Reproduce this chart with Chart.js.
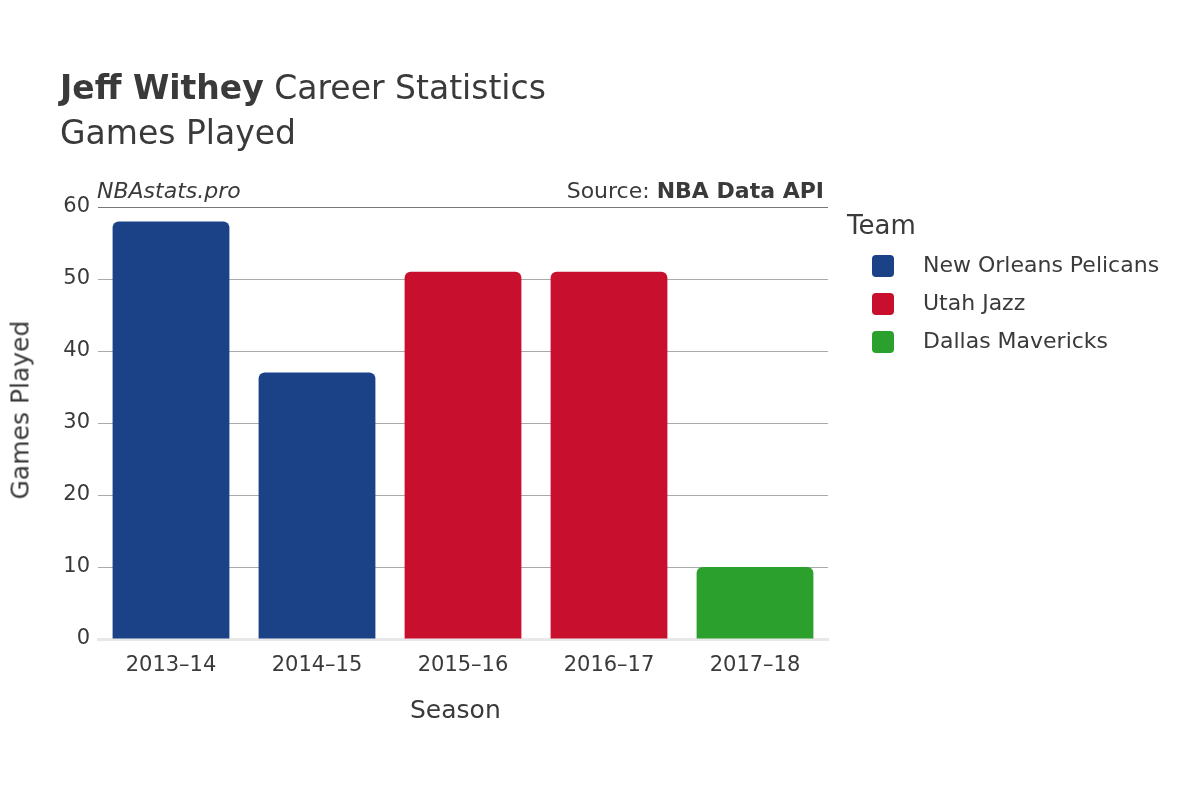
<!DOCTYPE html>
<html>
<head>
<meta charset="utf-8">
<script src="https://cdn.jsdelivr.net/npm/chart.js@4"></script>
<style>
  body { margin: 0; background: #fff; font-family: "DejaVu Sans", sans-serif; color: #3a3a3a; }
  #wrap { position: relative; width: 1200px; height: 800px; }
  .t { position: absolute; white-space: nowrap; }
  .sw { position: absolute; width: 22px; height: 22px; border-radius: 4px; }
</style>
</head>
<body>
<div id="wrap">
  <canvas id="c" width="1200" height="800"></canvas>
  <div class="t" style="left:60px;top:68px;font-size:33px;"><b>Jeff Withey</b> Career Statistics</div>
  <div class="t" style="left:60px;top:113px;font-size:33px;">Games Played</div>
  <div class="t" style="left:97px;top:178px;font-size:22px;font-style:italic;">NBAstats.pro</div>
  <div class="t" style="right:376px;top:178px;font-size:22px;">Source: <b>NBA Data API</b></div>
  <div class="t" style="left:-60px;top:405px;font-size:25px;transform:rotate(-90deg);transform-origin:center;width:160px;text-align:center;">Games Played</div>
  <div class="t" style="left:410px;top:695px;font-size:25px;">Season</div>
  <div class="t" style="left:847px;top:210px;font-size:26px;">Team</div>
  <div class="sw" style="left:872px;top:255px;background:#1B4287"></div>
  <div class="t" style="left:923px;top:252px;font-size:22px;">New Orleans Pelicans</div>
  <div class="sw" style="left:872px;top:293px;background:#C8102E"></div>
  <div class="t" style="left:923px;top:290px;font-size:22px;">Utah Jazz</div>
  <div class="sw" style="left:872px;top:331px;background:#2CA02C"></div>
  <div class="t" style="left:923px;top:328px;font-size:22px;">Dallas Mavericks</div>
</div>
<script>
const seasons = ['2013–14', '2014–15', '2015–16', '2016–17', '2017–18'];
const pelicans = [58, 37, null, null, null];
const jazz = [null, null, 51, 51, null];
const mavericks = [null, null, null, null, 10];
const yTicks = [0, 10, 20, 30, 40, 50, 60];

const bar = (label, data, color) => ({
  label: label, data: data, backgroundColor: color,
  borderRadius: { topLeft: 6, topRight: 6 }, borderSkipped: 'bottom',
  barPercentage: 0.8, categoryPercentage: 1
});

new Chart(document.getElementById('c'), {
  type: 'bar',
  data: {
    labels: seasons,
    datasets: [
      bar('New Orleans Pelicans', pelicans, '#1B4287'),
      bar('Utah Jazz', jazz, '#C8102E'),
      bar('Dallas Mavericks', mavericks, '#2CA02C')
    ]
  },
  options: {
    responsive: false,
    animation: false,
    layout: { padding: { top: 207, right: 372, left: 0, bottom: 0 } },
    plugins: { legend: { display: false }, tooltip: { enabled: false } },
    scales: {
      x: {
        stacked: true,
        afterFit: s => { s.height = 161; },
        grid: { display: false },
        border: { color: '#e8e8e8', width: 3 },
        ticks: { color: '#3a3a3a', font: { family: 'DejaVu Sans', size: 21 }, padding: 6 }
      },
      y: {
        stacked: true,
        min: 0, max: 60,
        afterFit: s => { s.width = 98; },
        afterBuildTicks: s => { s.ticks = yTicks.map(v => ({ value: v })); },
        grid: { color: ctx => ctx.tick && ctx.tick.value === 60 ? '#777' : (ctx.tick && ctx.tick.value === 0 ? 'rgba(0,0,0,0)' : '#aaa'), drawTicks: false },
        border: { display: false },
        ticks: { color: '#3a3a3a', font: { family: 'DejaVu Sans', size: 21 }, padding: 8 }
      }
    }
  }
});
</script>
</body>
</html>
